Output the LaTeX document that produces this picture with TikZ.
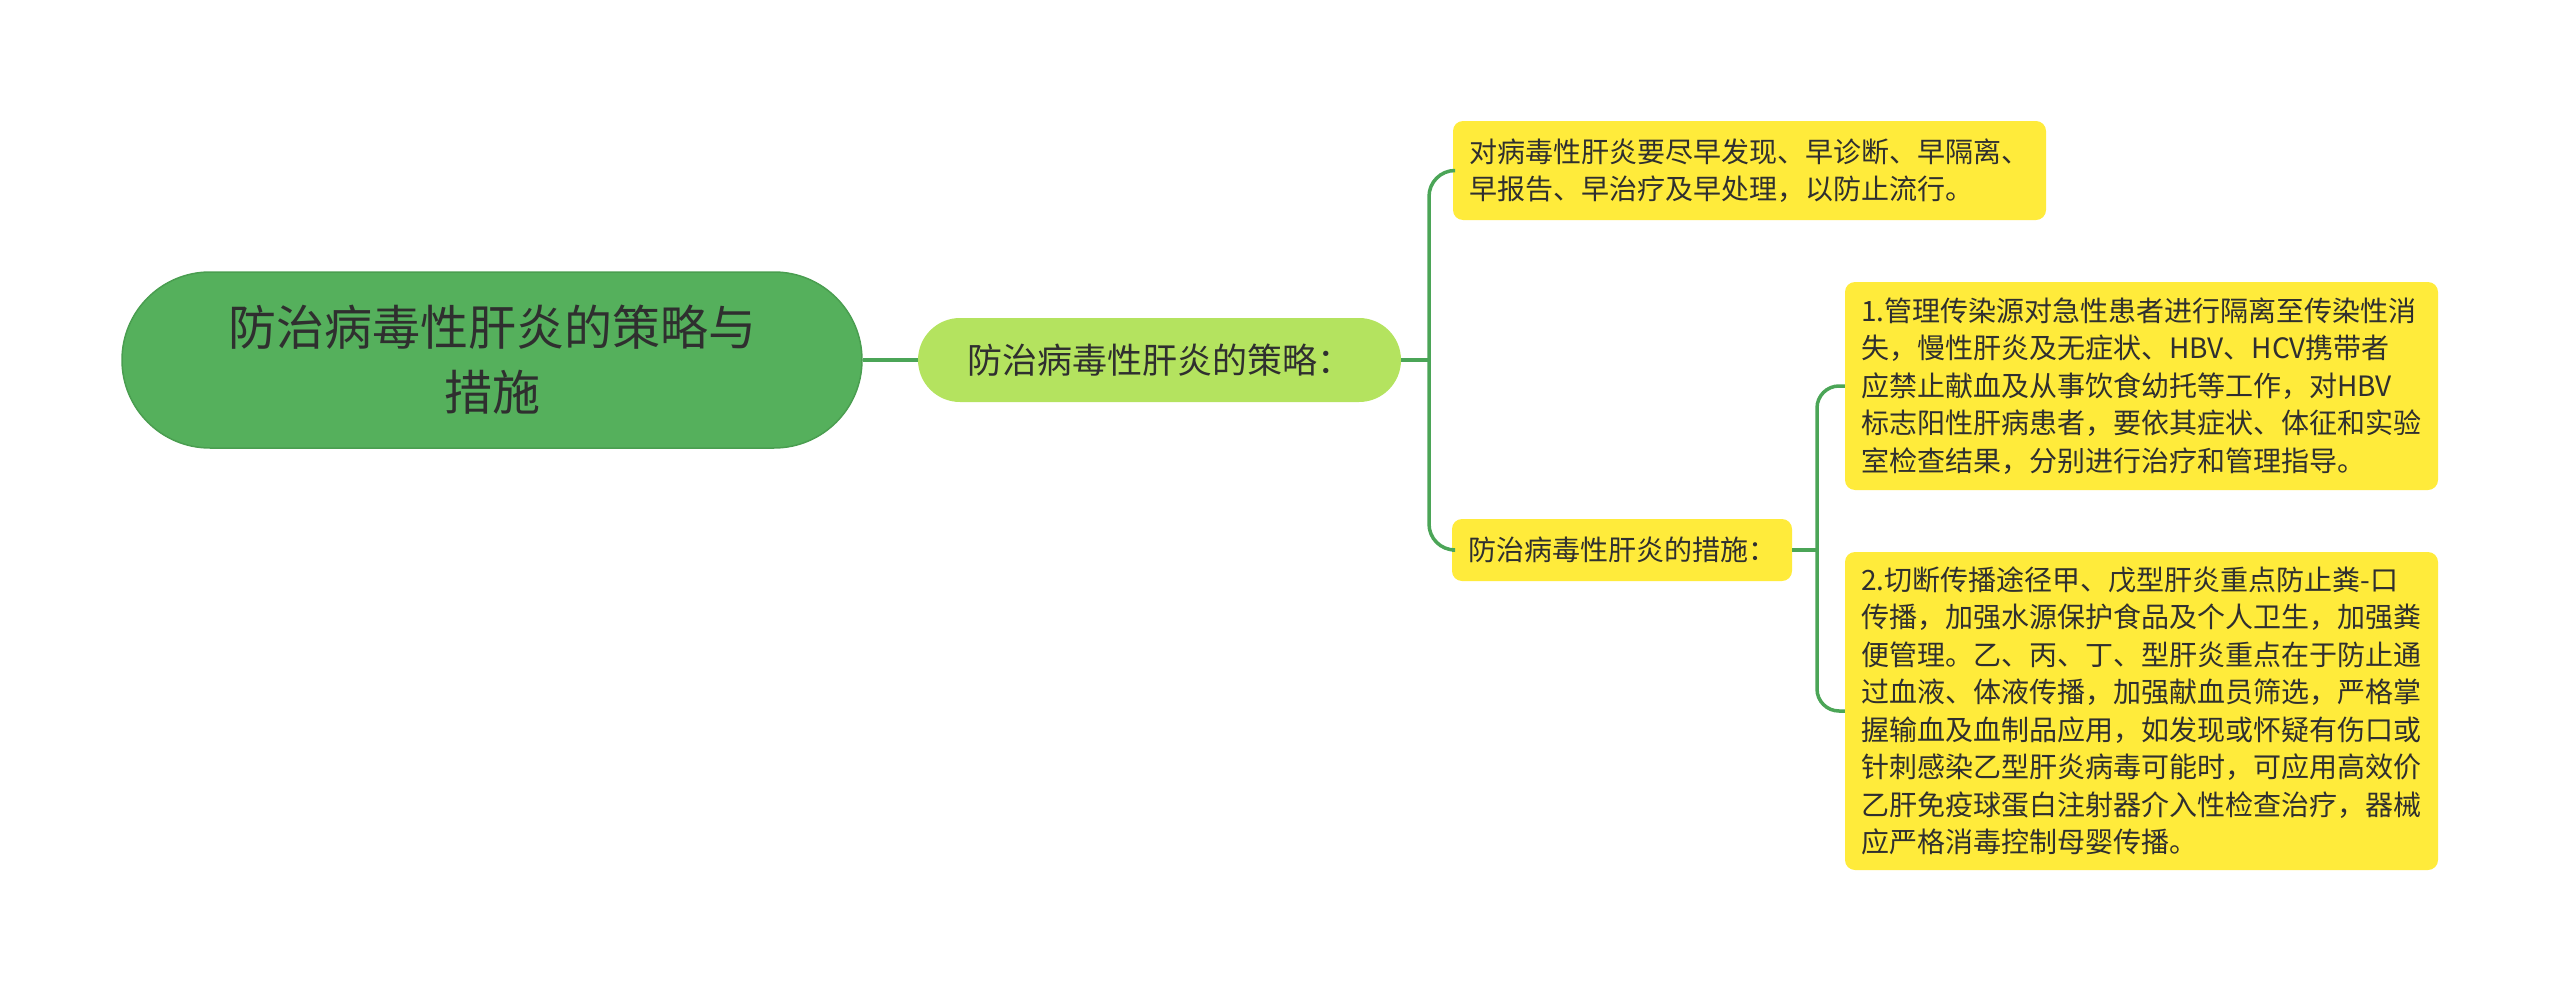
\documentclass[tikz,border=0pt]{standalone}
\usepackage{fontspec}
\setmainfont{Noto Sans CJK SC}
\usepackage{xcolor}

\definecolor{rootgreen}{HTML}{55B05C}
\definecolor{rootedge}{HTML}{4A9E50}
\definecolor{hubgreen}{HTML}{B4E35F}
\definecolor{leafyellow}{HTML}{FFEB3B}
\definecolor{linkgreen}{HTML}{4BA557}
\definecolor{inkgray}{HTML}{2F2F2F}

\begin{document}
\begin{tikzpicture}[x=1pt,y=-1pt,
  rootnode/.style={fill=rootgreen,draw=rootedge,line width=1.5pt,rounded corners=88pt,
    minimum width=740pt,minimum height=176pt,align=center,text=inkgray,
    font=\fontsize{48}{65}\selectfont},
  hubnode/.style={fill=hubgreen,rounded corners=42pt,minimum width=483pt,minimum height=84pt,
    text=inkgray,font=\fontsize{35}{44}\selectfont},
  leafnode/.style={fill=leafyellow,rounded corners=10pt,align=left,inner xsep=16pt,inner ysep=6pt,
    text=inkgray,font=\fontsize{28}{37.5}\selectfont},
  link/.style={draw=linkgreen,line width=3.5pt}]
\useasboundingbox (0,0) rectangle (2560,993);

% root and first level
\node[rootnode] (topic) at (492,360) {防治病毒性肝炎的策略与\\措施};
\node[hubnode] (strategy) at (1159.5,360) {防治病毒性肝炎的策略：};

% leaves
\node[leafnode,text width=561pt,minimum height=99pt] (early) at (1749.5,170.5)
  {对病毒性肝炎要尽早发现、早诊断、早隔离、\\早报告、早治疗及早处理，以防止流行。};
\node[leafnode,minimum width=338pt,minimum height=62pt] (measure) at (1622,550)
  {防治病毒性肝炎的措施：};
\node[leafnode,text width=561pt,minimum height=208pt] (source) at (2141.5,386)
  {1.管理传染源对急性患者进行隔离至传染性消\\
   失，慢性肝炎及无症状、HBV、HCV携带者\\
   应禁止献血及从事饮食幼托等工作，对HBV\\
   标志阳性肝病患者，要依其症状、体征和实验\\
   室检查结果，分别进行治疗和管理指导。};
\node[leafnode,text width=561pt,minimum height=318pt] (route) at (2141.5,711)
  {2.切断传播途径甲、戊型肝炎重点防止粪-口\\
   传播，加强水源保护食品及个人卫生，加强粪\\
   便管理。乙、丙、丁、型肝炎重点在于防止通\\
   过血液、体液传播，加强献血员筛选，严格掌\\
   握输血及血制品应用，如发现或怀疑有伤口或\\
   针刺感染乙型肝炎病毒可能时，可应用高效价\\
   乙肝免疫球蛋白注射器介入性检查治疗，器械\\
   应严格消毒控制母婴传播。};

% connectors
\coordinate (fork1) at (1429,360);
\coordinate (fork2) at (1817,550);

\draw[link] (topic.east) -- (strategy.west);
\draw[link] (strategy.east) -- (fork1);
\draw[link,rounded corners=26pt] (fork1) |- (early.west);
\draw[link,rounded corners=26pt] (fork1) |- (measure.west);
\draw[link] (measure.east) -- (fork2);
\draw[link,rounded corners=22pt] (fork2) |- (source.west);
\draw[link,rounded corners=22pt] (fork2) |- (route.west);
\end{tikzpicture}
\end{document}
